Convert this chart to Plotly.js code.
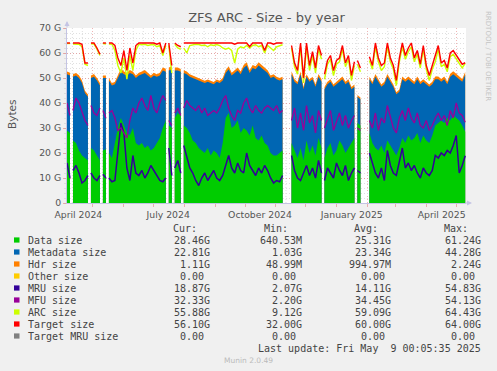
<!DOCTYPE html>
<html><head><meta charset="utf-8">
<script src="https://cdn.plot.ly/plotly-3.0.1.min.js"></script>
<style>html,body{margin:0;padding:0;background:#f0f0f0;}#chart{width:497px;height:371px;}</style>
</head><body><div id="chart"></div>
<script>
// ---- data (GB), one sample every 3 days from startDate ----
const startDate = '2024-04-05T15:00:00Z';
const stepDays = 3;
// dates where the collector had no data (gap markers)
const breakDates = ['2024-04-10','2024-04-28','2024-05-10','2024-05-16','2024-07-15','2024-07-21','2024-07-30','2024-12-18','2025-01-20'];

const dataSize = [29,28,25,24,21,19,18,17,22,21,19,17,21,21.5,20,18,24,30,34,31,28,27,30,24,23,24,22,23,21,22,24,26,30,33,
 31,30,34,36,35,31,30,28,25,24,22,21,20,22,19,21,20,18,24,34,36,30,31,33,28,30,29,27,31,26,25,27,24,23,20,19,19,20,21,
 null,null,
 24,21,18,22,17,25,20,23,19,26,22,18,22,24,19,21,25,23,20,22,24,26,32,31,
 null,null,
 28,24,22,21,23,20,25,23,21,19,22,26,24,27,25,26,28,24,27,25,24,27,31,32,33,32,34,33,35,34,33,31,28.46];
const metadataSize = [22.5,23,25.5,27,29,29,26,25.5,28,29.5,30,30,29,28.5,29,29,23.5,20,18.5,20.5,23,25,21.5,26,28,27.5,30,28,29,29,26.5,25,23,19.5,
 22,23.5,19,17,17.5,21,21.5,22.5,25,25.5,27,27.5,28,26.5,29,26.5,28.5,30,25,18,17.5,21,21,20,23.5,24,26,25,23,27.5,30,27,29,29,30,31.5,30.5,29,28.5,
 null,null,
 27.5,27.5,29.5,29.5,28.5,25.5,28.5,26.5,27.5,24.5,26.5,27.5,25.5,24.5,27.5,26.5,23.5,26.5,27.5,26.5,21.5,20.5,10.5,10.5,
 null,null,
 21.5,23.5,28.5,27.5,23.5,27.5,25.5,25.5,25.5,24.5,22.5,23.5,24.5,22.5,23.5,21.5,21.5,23.5,21.5,22.5,22.5,20.5,18.5,17.5,15.5,17.5,13.5,17.5,16.5,16.5,16.5,17.5,22.81];
const hdrSize = [1.1,1.1,1.0,1.0,1.1,1.0,0.9,0.9,1.0,1.1,1.0,1.0,1.0,1.0,1.0,0.9,1.0,1.1,1.2,1.1,1.1,1.2,1.1,1.0,1.1,1.1,1.2,1.1,1.0,1.1,1.0,1.1,1.2,1.2,
 1.2,1.2,1.2,1.2,1.1,1.1,1.1,1.0,1.0,1.0,0.9,0.9,0.9,0.9,0.9,0.9,0.9,0.9,1.0,1.1,1.2,1.1,1.1,1.2,1.1,1.2,1.3,1.1,1.2,1.2,1.3,1.2,1.1,1.1,1.0,1.0,1.0,1.0,1.0,
 null,null,
 1.2,1.0,0.9,1.1,0.9,1.0,0.9,1.0,0.9,1.1,1.0,0.9,1.0,1.0,0.9,1.0,1.0,1.1,1.0,1.0,0.9,0.9,0.7,0.7,
 null,null,
 1.0,0.9,1.1,1.0,0.9,1.0,1.1,1.0,0.9,0.8,0.9,1.1,1.0,1.1,1.0,1.0,1.1,1.0,1.0,1.0,0.9,1.0,1.1,1.1,1.1,1.1,1.0,1.2,1.2,1.2,1.1,1.1,1.11];
const mruSize = [16,10,13,15,12,8,9,11,12,10,9,11,11.5,10,10,8.5,9,20,32,28,14,9,19,12,11,13,10,12,15,13,11,9,8.5,10,
 22,11,14,17,12,23,18,14,12,9,7,10,12,9,11,13,10,9,11,15,19,14,12,16,13,12,20,15,13,11,14,12,15,13,10,8,9,8.5,11,
 null,null,
 19,13,10,9,12,15,11,14,10,17,12,9,14,12,10,16,13,11,15,9,12,14,13,12,
 null,null,
 20,16,12,10,14,9,21,15,12,11,17,22,14,16,13,15,12,10,14,12,11,13,19,18,20,19,21,20,23,27,12,15,18.87];
const mfuSize = [40,35,37,42,40,36,33,31,39,36,35,38,37,34,36,37,34,29,30,28,26,33,38,36,40,42,39,37,43,38,36,40,43,41,
 33,31,36,38,35,38,41,39,38,37,39,36,38,35,36,37,36,38,41,43,38,35,33,37,36,40,42,38,36,39,37,36,38,39,38,37,39,36,37,
 null,null,
 33,38,30,36,29,39,32,35,28,37,33,30,34,37,29,33,36,31,35,30,33,35,30,29,
 null,null,
 33,30,36,29,34,32,39,35,30,28,34,37,33,38,34,32,36,31,30,33,29,31,34,36,33,35,31,37,34,40,36,35,32.33];
const arcSize = [63.8,63.8,63.6,63.7,63.5,62.5,55.5,55,63.7,63.6,61.5,59,63.8,63.6,63.6,63.5,61,55,52,58,49.5,59,53,61,63.5,63.3,63.5,63,63.3,63.4,62.5,63,59,63,
 63,52,63.5,62,61.5,62,60,63,63.3,63.5,63.4,63,63.2,62.5,63.3,63,63.4,63,62,61.5,62,61,56,61.5,62.5,62,63,62,63,63.3,62.5,63,60,63,62,61,62.5,63,63.3,
 null,null,
 62,54.5,51.5,62.5,48,62.5,53,59,52,61.5,57.5,49.5,55.5,57.5,51,55.5,56.5,61.5,54.5,57.5,49,55,55.5,52.5,
 null,null,
 57,53.5,62.5,56.5,53,54.5,62.5,56.5,53.5,47,56.5,62.5,57.5,60.5,62.5,56.5,59.5,54,61.5,53.5,49,53.5,56.5,61.5,54.5,55.5,52.5,58.5,59.5,57.5,55.5,54,55.88];
const targetSize = [64,64,64,64,64,63.5,56,56,64,64,62,59.5,64,64,64,64,63,58,55,61,53,62,56,63,64,64,64,64,64,64,63.5,64,60,64,
 64,55,64,63,62.5,64,64,64,64,64,64,64,64,64,64,64,64,64,64,64,64,64,63.5,64,64,64,64,62.5,64,64,64,64,61,64,64,63.5,64,64,64,
 null,null,
 63,56,53,64,50,64,55,60.5,54,63,59,51.5,57,59,53,57,58,63,56,59,51,56.5,57,54,
 null,null,
 58.5,55,64,58,55,56,64,58,55,49,58,64,59,62,64,58,61,55.5,63,55,51,55,58,63,56,57,54,60,61,59,57,55.5,56.1];

// legend table
const legendNames = ['Data size','Metadata size','Hdr size','Other size','MRU size','MFU size','ARC size','Target size','Target MRU size'];
const legendColors = ['#00cc00','#0066b3','#ff8000','#ffcc00','#330099','#990099','#ccff00','#ff0000','#808080'];
const curVals = ['28.46G','22.81G','1.11G','0.00','18.87G','32.33G','55.88G','56.10G','0.00'];
const minVals = ['640.53M','1.03G','48.99M','0.00','2.07G','2.20G','9.12G','32.00G','0.00'];
const avgVals = ['25.31G','23.34G','994.97M','0.00','14.11G','34.45G','59.09G','60.00G','0.00'];
const maxVals = ['61.24G','44.28G','2.24G','0.00','54.83G','54.13G','64.43G','64.00G','0.00'];
const yTickVals = [0,10,20,30,40,50,60,70];
const yTickText = ['0','10 G','20 G','30 G','40 G','50 G','60 G','70 G'];
const xTickVals = ['2024-04-17','2024-07-16','2024-10-16','2025-01-16','2025-04-16'];
const xTickText = ['April 2024','July 2024','October 2024','January 2025','April 2025'];

// ---- build ----
const t0 = Date.parse(startDate);
const DAY = 86400000;
const iso = ms => new Date(ms).toISOString().slice(0,16).replace('T',' ');
const breaksMs = breakDates.map(d => Date.parse(d + 'T12:00:00Z'));
function series(vals){
  const x=[], y=[]; let b=0;
  for(let i=0;i<vals.length;i++){
    const t = t0 + i*stepDays*DAY;
    while(b<breaksMs.length && breaksMs[b] < t){ x.push(iso(breaksMs[b])); y.push(null); b++; }
    x.push(iso(t)); y.push(vals[i]);
  }
  return {x,y};
}
// split a series into continuous runs (so each filled area stops at a gap)
function runs(s){
  const out=[]; let cur=null;
  s.x.forEach((x,i)=>{
    const v=s.y[i];
    if(v==null){ cur=null; return; }
    if(!cur){ cur={x:[],y:[]}; out.push(cur); }
    cur.x.push(x); cur.y.push(v);
  });
  return out;
}
function sum(...arrs){ return arrs[0].map((v,i)=> arrs.some(a=>a[i]==null) ? null : arrs.reduce((s,a)=>s+a[i],0)); }

function areas(vals,color){
  return runs(series(vals)).map(r=>({x:r.x,y:r.y,type:'scatter',mode:'lines',fill:'tozeroy',fillcolor:color,line:{width:0,color:color},hoverinfo:'skip'}));
}
function line(vals,color,w){ const s=series(vals); return {x:s.x,y:s.y,type:'scatter',mode:'lines',line:{width:w,color:color},hoverinfo:'skip'}; }

const traces = [
  ...areas(sum(dataSize,metadataSize,hdrSize),'#ff8000'),
  ...areas(sum(dataSize,metadataSize),'#0066b3'),
  ...areas(dataSize,'#00cc00'),
  line(mruSize,'#330099',1.5), line(mfuSize,'#990099',1.3),
  line(arcSize,'#ccff00',1.4), line(targetSize,'#ff0000',1.4)
];

// grid helper dates
const monthStarts=[], tenDay=[];
for(let y=2024;y<=2025;y++) for(let m=1;m<=12;m++){
  const mm=String(m).padStart(2,'0');
  monthStarts.push(`${y}-${mm}-01`);
  tenDay.push(`${y}-${mm}-11`, `${y}-${mm}-21`);
}

const L=67, R=31, T=28, B=168, W=497, H=371, PW=W-L-R, PH=H-T-B;
const px = v => (v-L)/PW, py = v => (H-B-v)/PH;

const shapes = tenDay.map(d=>({type:'line',xref:'x',yref:'paper',x0:d,x1:d,y0:0,y1:1,layer:'below',line:{color:'#dddddd',width:1,dash:'1px,2px'}}));
const ann = [];
const mono = {family:'DejaVu Sans Mono',size:10,color:'#444'};
const hdrY = 228.5;
[['Cur:',199],['Min:',290],['Avg:',380],['Max:',470]].forEach(([t,x])=>ann.push({xref:'paper',yref:'paper',x:px(x),y:py(hdrY),text:t,showarrow:false,xanchor:'right',yanchor:'middle',font:mono}));
const cols = [[curVals,212],[minVals,303.5],[avgVals,393],[maxVals,483]];
legendNames.forEach((n,k)=>{
  const yy = 240 + 12*k;
  shapes.push({type:'rect',xref:'paper',yref:'paper',x0:px(14),x1:px(19.5),y0:py(yy+2.6),y1:py(yy-2.6),fillcolor:legendColors[k],line:{width:0}});
  ann.push({xref:'paper',yref:'paper',x:px(26),y:py(yy),text:n,showarrow:false,xanchor:'left',yanchor:'middle',font:mono});
  cols.forEach(([arr,xr])=>{
    const v=arr[k]; const unitless=/\d$/.test(v);
    ann.push({xref:'paper',yref:'paper',x:px(unitless? xr-6 : xr),y:py(yy),text:v,showarrow:false,xanchor:'right',yanchor:'middle',font:mono});
  });
});
ann.push({xref:'paper',yref:'paper',x:px(483),y:py(348),text:'Last update: Fri May&nbsp; 9 00:05:35 2025',showarrow:false,xanchor:'right',yanchor:'middle',font:mono});
ann.push({xref:'paper',yref:'paper',x:px(248.5),y:py(360),text:'Munin 2.0.49',showarrow:false,xanchor:'center',yanchor:'middle',font:{family:'DejaVu Sans',size:7.5,color:'#bbbbbb'}});
ann.push({xref:'paper',yref:'paper',x:px(488),y:py(56),text:'RRDTOOL / TOBI OETIKER',textangle:90,showarrow:false,xanchor:'center',yanchor:'middle',font:{family:'DejaVu Sans',size:7,color:'#c4c4c4'}});
ann.push({xref:'paper',yref:'paper',x:px(12),y:py(115),text:'Bytes',textangle:-90,showarrow:false,xanchor:'center',yanchor:'middle',font:{family:'DejaVu Sans',size:10.5,color:'#555'}});
// axis arrows
ann.push({xref:'paper',yref:'paper',x:0,y:py(21),ax:0,ay:8,text:'',showarrow:true,arrowhead:2,arrowsize:1,arrowwidth:1,arrowcolor:'#c4c4e4'});
ann.push({xref:'paper',yref:'paper',x:px(472),y:0,ax:-8,ay:0,text:'',showarrow:true,arrowhead:2,arrowsize:1,arrowwidth:1,arrowcolor:'#c4c4e4'});

const redGrid='rgba(225,120,120,0.55)';
const layout = {
  width:W, height:H, margin:{l:L,r:R,t:T,b:B,pad:0},
  paper_bgcolor:'#f0f0f0', plot_bgcolor:'#ffffff', showlegend:false,
  title:{text:'ZFS ARC - Size - by year', x:0.5, xref:'paper', y:1-17/H, yref:'container', xanchor:'center', yanchor:'middle', font:{family:'DejaVu Sans',size:13,color:'#555'}},
  xaxis:{type:'date', range:['2024-04-05 15:00','2025-05-10 10:00'], tickmode:'array', tickvals:xTickVals, ticktext:xTickText,
    showgrid:false, ticks:'', ticklabelstandoff:3, tickfont:{family:'DejaVu Sans',size:9.3,color:'#555'}, showline:true, linecolor:'#c4c4e4', linewidth:1, zeroline:false,
    minor:{tickmode:'array', tickvals:monthStarts, showgrid:true, gridcolor:redGrid, griddash:'1px,2px', gridwidth:1, ticks:'outside', ticklen:3, tickcolor:redGrid}},
  yaxis:{range:[0,70], tickmode:'array', tickvals:yTickVals, ticktext:yTickText, showgrid:true, gridcolor:redGrid, griddash:'1px,2px',
    ticks:'outside', ticklen:3, tickcolor:redGrid, tickfont:{family:'DejaVu Sans',size:9.3,color:'#555'}, showline:true, linecolor:'#c4c4e4', zeroline:false,
    minor:{dtick:2, showgrid:true, gridcolor:'#e0e0e0', griddash:'1px,2px', ticks:'outside', ticklen:2, tickcolor:'#dddddd'}},
  shapes:shapes, annotations:ann
};
Plotly.newPlot('chart', traces, layout, {staticPlot:true, displayModeBar:false});
</script></body></html>
